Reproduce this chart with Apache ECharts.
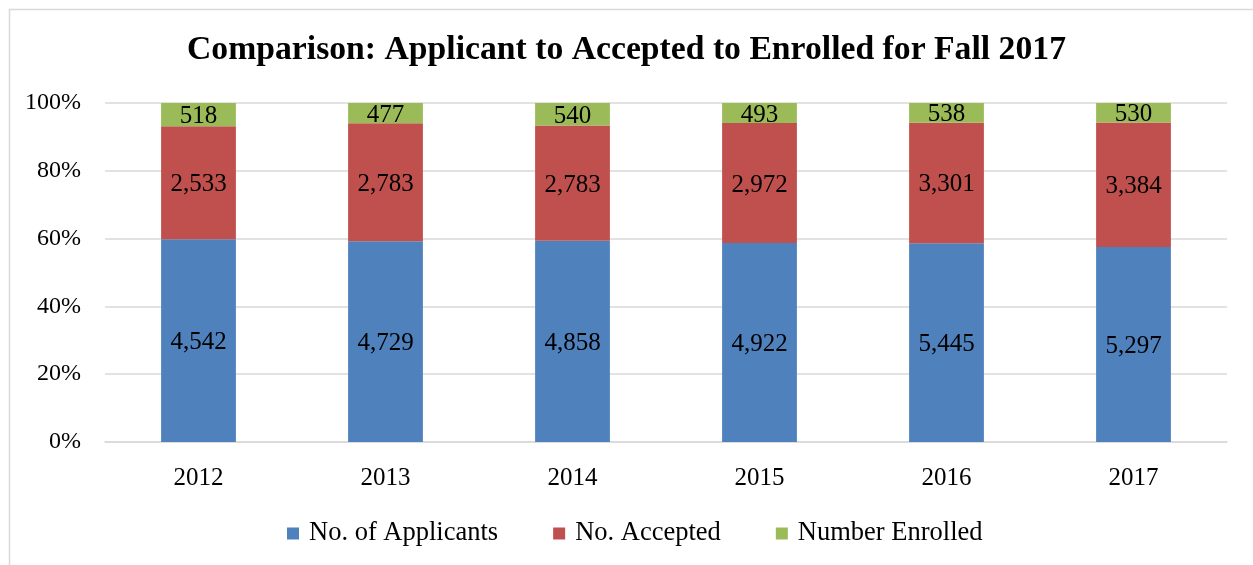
<!DOCTYPE html>
<html>
<head>
<meta charset="utf-8">
<script src="https://cdn.jsdelivr.net/npm/echarts@6/dist/echarts.min.js"></script>
<style>
html,body{margin:0;padding:0;background:#fff;}
#c{width:1253px;height:565px;}
</style>
</head>
<body>
<div id="c"></div>
<script>
var categories = ['2012','2013','2014','2015','2016','2017'];
var applicants = [4542, 4729, 4858, 4922, 5445, 5297];
var accepted = [2533, 2783, 2783, 2972, 3301, 3384];
var enrolled = [518, 477, 540, 493, 538, 530];
var seriesNames = ['No. of Applicants', 'No. Accepted', 'Number Enrolled'];
var yTicks = [0, 20, 40, 60, 80, 100];

var FONT = 'Liberation Serif';
var totals = categories.map(function(c, i){ return applicants[i] + accepted[i] + enrolled[i]; });
function pct(arr){ return arr.map(function(v, i){ return { value: v / totals[i] * 100, raw: v }; }); }
function fmt(n){ return n.toString().replace(/\B(?=(\d{3})+(?!\d))/g, ','); }

var colors = ['#4F81BD', '#C0504D', '#9BBB59'];
var raws = [applicants, accepted, enrolled];

var chart = echarts.init(document.getElementById('c'), null, {renderer: 'canvas'});
chart.setOption({
  animation: false,
  backgroundColor: '#fff',
  textStyle: { fontFamily: FONT },
  graphic: [{
    type: 'rect', left: 7, top: 7, shape: { width: 1270, height: 600 },
    style: { fill: 'none', stroke: '#d9d9d9', lineWidth: 1.5 }, silent: true
  }],
  title: {
    text: 'Comparison: Applicant to Accepted to Enrolled for Fall 2017',
    left: 'center', top: 28,
    textStyle: { fontFamily: FONT, fontWeight: 'bold', fontSize: 33.7, color: '#000' }
  },
  legend: {
    top: 515, left: 282,
    itemWidth: 12, itemHeight: 12, itemGap: 55,
    icon: 'rect',
    textStyle: { fontFamily: FONT, fontSize: 26.5, color: '#000', padding: [0, 0, 0, 5] },
    data: seriesNames
  },
  grid: { left: 105, right: 26, top: 103, bottom: 123, containLabel: false },
  xAxis: {
    type: 'category', data: categories,
    axisLine: { show: true, lineStyle: { color: '#d9d9d9', width: 1.5 } },
    axisTick: { show: false },
    axisLabel: { fontFamily: FONT, fontSize: 25, color: '#000', margin: 24 }
  },
  yAxis: {
    type: 'value', min: 0, max: 100, interval: 20,
    axisLine: { show: false }, axisTick: { show: false },
    splitLine: { lineStyle: { color: '#d9d9d9', width: 1.5 } },
    axisLabel: {
      fontFamily: FONT, fontSize: 24, color: '#000', margin: 24,
      formatter: function(v){ return yTicks.indexOf(v) >= 0 ? v + '%' : ''; }
    }
  },
  series: seriesNames.map(function(name, k){
    return {
      name: name, type: 'bar', stack: 'total', barWidth: '40%',
      itemStyle: { color: colors[k] },
      data: pct(raws[k]),
      label: {
        show: true, position: 'inside', color: '#000',
        fontFamily: FONT, fontSize: 25, offset: [0, 2],
        formatter: function(p){ return fmt(p.data.raw); }
      }
    };
  })
});
</script>
</body>
</html>
